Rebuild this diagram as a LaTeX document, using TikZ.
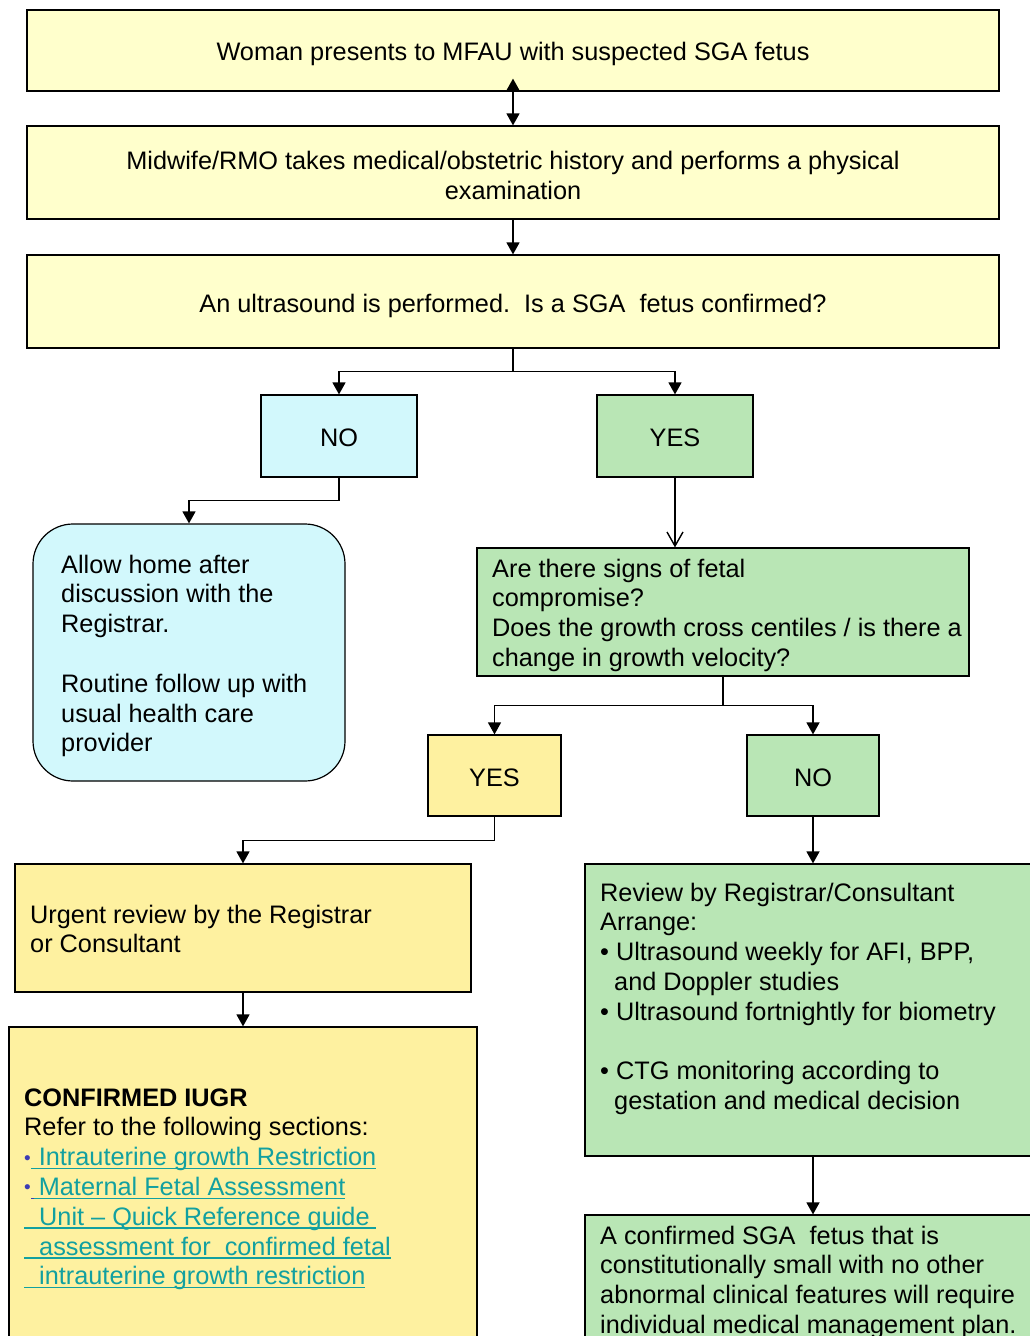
\documentclass[tikz,border=0pt]{standalone}
\usepackage{fontspec}
\setmainfont{Liberation Sans}
\usetikzlibrary{arrows.meta}
\definecolor{ylight}{HTML}{FFFFCC}
\definecolor{cyanl}{HTML}{D2F8FC}
\definecolor{greenl}{HTML}{B9E6B5}
\definecolor{yell}{HTML}{FEF1A0}
\definecolor{tealk}{HTML}{12A0A0}
\definecolor{bblue}{HTML}{3C3CB4}
\newcommand\fs{\fontsize{25.3}{29.8}\selectfont}
\newcommand\lnk[1]{\setbox0\hbox{#1}\rlap{\rule[-3.5pt]{\wd0}{1.4pt}}\box0}
\newcommand\smallbul{{\fontsize{19}{19}\selectfont\raisebox{1.5pt}{•}}}
\begin{document}
\begin{tikzpicture}[x=1pt,y=-1pt,
  box/.style={draw=black, line width=1.2pt, inner sep=0pt},
  txt/.style={anchor=north west, align=left, inner sep=0pt, font=\fs},
  ctr/.style={align=center, font=\fs, inner sep=0pt},
  arr/.style={draw=black, line width=1.4pt, -{Triangle[length=12pt,width=13pt]}},
  openarr/.style={draw=black, line width=1.4pt, -{Straight Barb[length=14pt,width=16pt]}}]
\fill[white] (0,0) rectangle (1030,1336);
\useasboundingbox (0,0) rectangle (1030,1336);

% boxes
\node[box, fill=ylight, minimum width=972pt, minimum height=81pt] (b1) at (513,50.5) {};
\node[ctr] (b1t) at (513,53.5) {Woman presents to MFAU with suspected SGA fetus};
\node[box, fill=ylight, minimum width=972pt, minimum height=93pt] (b2) at (513,172.5) {};
\node[ctr] (b2t) at (513,175.5) {Midwife/RMO takes medical/obstetric history and performs a physical\\examination};
\node[box, fill=ylight, minimum width=972pt, minimum height=93pt] (b3) at (513,301.5) {};
\node[ctr] (b3t) at (513,305.5) {An ultrasound is performed.\ \ Is a SGA\ \ fetus confirmed?};

\node[box, fill=cyanl, minimum width=156pt, minimum height=82pt] (no1) at (339,436) {};
\node[ctr] (no1t) at (339,437.5) {NO};
\node[box, fill=greenl, minimum width=156pt, minimum height=82pt] (yes1) at (675,436) {};
\node[ctr] (yes1t) at (675,437.5) {YES};

\node[box, fill=cyanl, rounded corners=40pt, minimum width=312pt, minimum height=257pt] (allow) at (189,652.5) {};
\node[txt] (allowt) at (61,552) {\strut Allow home after\\discussion with the\\Registrar.\\ ~\\Routine follow up with\\usual health care\\provider};

\node[box, fill=greenl, minimum width=492pt, minimum height=128pt] (are) at (723,612) {};
\node[txt] (aret) at (492,556) {\strut Are there signs of fetal\\compromise?\\Does the growth cross centiles / is there a\\change in growth velocity?};

\node[box, fill=yell, minimum width=133pt, minimum height=81pt] (yes2) at (494.5,775.5) {};
\node[ctr] (yes2t) at (494.5,777.5) {YES};
\node[box, fill=greenl, minimum width=132pt, minimum height=81pt] (no2) at (813,775.5) {};
\node[ctr] (no2t) at (813,777.5) {NO};

\node[box, fill=yell, minimum width=456pt, minimum height=128pt] (urgent) at (243,928) {};
\node[txt] (urgentt) at (30,902) {\strut Urgent review by the Registrar\\or Consultant};

\node[box, fill=greenl, minimum width=456pt, minimum height=292pt] (review) at (813,1010) {};
\node[txt] (reviewt) at (600,880) {\strut Review by Registrar/Consultant\\Arrange:\\• Ultrasound weekly for AFI, BPP,\\\hspace*{14pt}and Doppler studies\\• Ultrasound fortnightly for biometry\\ ~\\• CTG monitoring according to\\\hspace*{14pt}gestation and medical decision};

\node[box, fill=yell, minimum width=468pt, minimum height=320pt] (conf) at (243,1187) {};
\node[txt] (conft) at (24,1085) {\strut\textbf{CONFIRMED IUGR}\\Refer to the following sections:\\
{\color{bblue}\smallbul}{\color{tealk}\lnk{\hspace{8pt}Intrauterine growth Restriction}}\\
{\color{bblue}\smallbul\lnk{\hspace{3pt}}}{\color{tealk}\lnk{\hspace{5pt}Maternal Fetal Assessment}}\\
{\color{tealk}\lnk{\hspace{15pt}Unit – Quick Reference guide\hspace{6pt}}}\\
{\color{tealk}\lnk{\hspace{15pt}assessment for\ \ confirmed fetal}}\\
{\color{tealk}\lnk{\hspace{15pt}intrauterine growth restriction}}};

\node[box, fill=greenl, minimum width=456pt, minimum height=145pt] (sga) at (813,1287.5) {};
\node[txt] (sgat) at (600,1223) {\strut A confirmed SGA\ \ fetus that is\\constitutionally small with no other\\abnormal clinical features will require\\individual medical management plan.};

% connectors
\draw[line width=1.4pt, {Triangle[length=12pt,width=13pt]}-{Triangle[length=12pt,width=13pt]}] ([yshift=13pt]b1.south) -- (b2.north);
\draw[arr] (b2.south) -- (b3.north);
\draw[arr] (b3.south) -- ++(0,23) -| (no1.north);
\draw[arr] (b3.south) -- ++(0,23) -| (yes1.north);
\draw[arr] (no1.south) -- ++(0,23) -| (allow.north);
\draw[openarr] (yes1.south) -- (yes1.south |- are.north);
\draw[arr] (are.south) -- ++(0,29) -| (yes2.north);
\draw[arr] (are.south) -- ++(0,29) -| (no2.north);
\draw[arr] (yes2.south) -- ++(0,24) -| (urgent.north);
\draw[arr] (no2.south) -- (no2.south |- review.north);
\draw[arr] (urgent.south) -- (conf.north);
\draw[arr] (review.south) -- (sga.north);
\end{tikzpicture}
\end{document}
